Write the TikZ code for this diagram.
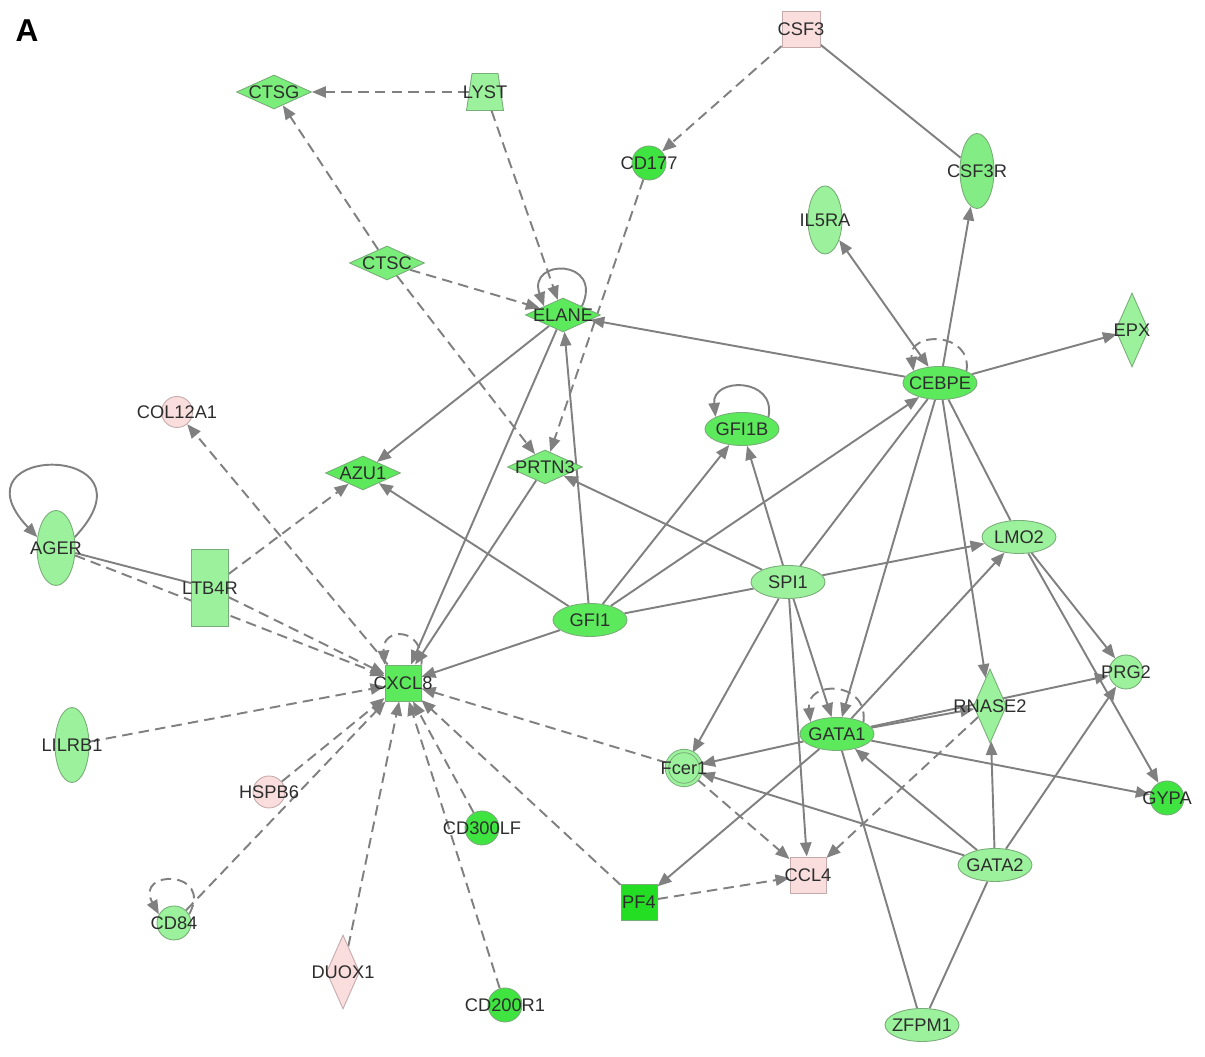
\documentclass[tikz,border=0pt]{standalone}
\usepackage{fontspec}
\setmainfont{Liberation Sans}
\usepackage{xcolor}
\usetikzlibrary{positioning,arrows.meta,shapes.geometric,backgrounds}

\definecolor{edgegray}{RGB}{128,128,128}
\definecolor{genetext}{RGB}{45,45,45}
\definecolor{geneline}{RGB}{120,172,120}
\definecolor{pinkline}{RGB}{196,170,170}
\definecolor{gdeep}{RGB}{36,222,36}
\definecolor{gbright}{RGB}{64,228,64}
\definecolor{gmid}{RGB}{92,234,92}
\definecolor{gdia}{RGB}{122,237,122}
\definecolor{gsoft}{RGB}{132,236,132}
\definecolor{glight}{RGB}{156,241,156}
\definecolor{pinkfill}{RGB}{250,222,222}

\tikzset{
  gene/.style={draw=geneline, line width=0.5pt, inner sep=0pt},
  every label/.style={inner sep=0pt, text=genetext, font=\fontsize{10.4}{12}\selectfont},
  flat/.style={gene, ellipse, minimum width=1.48cm, minimum height=0.66cm},
  tall/.style={gene, ellipse, minimum width=0.68cm, minimum height=1.5cm},
  dot/.style={gene, circle, minimum size=0.68cm},
  box/.style={gene, rectangle, minimum size=0.72cm},
  enz/.style={gene, diamond, minimum width=1.5cm, minimum height=0.68cm},
  tallenz/.style={gene, diamond, minimum width=0.66cm, minimum height=1.48cm},
  trap/.style={gene, trapezium, inner sep=2pt, trapezium left angle=78, trapezium right angle=78,
    trapezium stretches=true, minimum width=0.74cm, minimum height=0.74cm},
  up/.style={fill=pinkfill, draw=pinkline},
  rel/.style={draw=edgegray, line width=1.1pt},
  act/.style={rel, -{Triangle[length=8pt,width=6.4pt]}},
  ind/.style={act, dash pattern=on 6pt off 3.5pt},
  both/.style={rel, {Triangle[length=8pt,width=6.4pt]}-{Triangle[length=8pt,width=6.4pt]}},
}

\begin{document}
\begin{tikzpicture}[x=0.02cm,y=0.02cm]
  \useasboundingbox (0,0) rectangle (1205,1057);
  \node[font=\bfseries\fontsize{18}{20}\selectfont] (panel) at (27,1026) {A}; %panel letter

  % top part
  \node[box, up, minimum width=0.76cm] (csf3) at (801,1028) [label=center:CSF3] {};
  \node[trap, fill=glight] (lyst) at (485,965) [label=center:LYST] {};
  \node[enz, fill=gdia] (ctsg) at (274,965) [label=center:CTSG] {};
  \node[dot, fill=gbright] (cd177) at (649,894) [label=center:CD177] {};
  \node[tall, fill=gsoft] (csf3r) at (977,886) [label=center:CSF3R] {};
  \node[tall, fill=glight, minimum height=1.36cm] (il5ra) at (825,837) [label=center:IL5RA] {};
  \node[enz, fill=gdia] (ctsc) at (387,794) [label=center:CTSC] {};
  \node[enz, fill=gmid] (elane) at (563,742) [label=center:ELANE] {};
  \node[tallenz, fill=glight] (epx) at (1132,727) [label=center:EPX] {};
  \node[flat, fill=gmid] (cebpe) at (940,674) [label=center:CEBPE] {};

  % middle part
  \node[dot, up, minimum size=0.62cm] (col12a1) at (177,645) [label=center:COL12A1] {};
  \node[flat, fill=gmid] (gfi1b) at (742,628) [label=center:GFI1B] {};
  \node[enz, fill=gmid] (azu1) at (363,584) [label=center:AZU1] {};
  \node[enz, fill=gdia] (prtn3) at (545,590) [label=center:PRTN3] {};
  \node[tall, fill=glight, minimum width=0.76cm] (ager) at (56,509) [label=center:AGER] {};
  \node[box, fill=glight, minimum width=0.74cm, minimum height=1.54cm] (ltb4r) at (210,469) [label=center:LTB4R] {};
  \node[flat, fill=glight] (lmo2) at (1019,520) [label=center:LMO2] {};
  \node[flat, fill=glight] (spi1) at (788,475) [label=center:SPI1] {};
  \node[flat, fill=gmid] (gfi1) at (590,437) [label=center:GFI1] {};
  \node[box, fill=gmid] (cxcl8) at (403,374) [label=center:CXCL8] {};
  \node[dot, fill=glight] (prg2) at (1126,385) [label=center:PRG2] {};
  \node[tallenz, fill=glight] (rnase2) at (990,351) [label=center:RNASE2] {};
  \node[tall, fill=glight] (lilrb1) at (72,312) [label=center:LILRB1] {};
  \node[flat, fill=gmid] (gata1) at (837,323) [label=center:GATA1] {};
  \node[dot, fill=glight, double=glight, double distance=1.4pt] (fcer1) at (684,289) [label=center:Fcer1] {};
  \node[dot, fill=gbright] (gypa) at (1167,259) [label=center:GYPA] {};

  % bottom part
  \node[dot, up, minimum size=0.64cm] (hspb6) at (269,265) [label=center:HSPB6] {};
  \node[dot, fill=gbright] (cd300lf) at (482,229) [label=center:CD300LF] {};
  \node[flat, fill=glight] (gata2) at (995,192) [label=center:GATA2] {};
  \node[box, up] (ccl4) at (808,182) [label=center:CCL4] {};
  \node[box, fill=gdeep] (pf4) at (639,155) [label=center:PF4] {};
  \node[dot, fill=glight] (cd84) at (174,134) [label=center:CD84] {};
  \node[tallenz, up] (duox1) at (343,85) [label=center:DUOX1] {};
  \node[dot, fill=gbright] (cd200r1) at (505,52) [label=center:CD200R1] {};
  \node[flat, fill=glight] (zfpm1) at (922,32) [label=center:ZFPM1] {};

  \begin{scope}[on background layer]
    % dashed (indirect) links
    \draw[ind] (lyst) -- (ctsg);
    \draw[ind] (lyst) -- (elane);
    \draw[ind] (ctsc) -- (ctsg);
    \draw[ind] (ctsc) -- (elane);
    \draw[ind] (ctsc) -- (prtn3);
    \draw[ind] (csf3) -- (cd177);
    \draw[ind] (cd177) -- (prtn3);
    \draw[ind] (ltb4r) -- (azu1);
    \draw[ind] (cxcl8) -- (col12a1);
    \draw[ind] (ager) -- (cxcl8);
    \draw[ind] (ltb4r) -- (cxcl8);
    \draw[ind] (lilrb1) -- (cxcl8);
    \draw[ind] (hspb6) -- (cxcl8);
    \draw[ind] (cd84) -- (cxcl8);
    \draw[ind] (duox1) -- (cxcl8);
    \draw[ind] (cd300lf) -- (cxcl8);
    \draw[ind] (cd200r1) -- (cxcl8);
    \draw[ind] (pf4) -- (cxcl8);
    \draw[ind] (fcer1) -- (cxcl8);
    \draw[ind] (fcer1) -- (ccl4);
    \draw[ind] (rnase2) -- (ccl4);
    \draw[ind] (pf4) -- (ccl4);

    % solid (direct) links
    \draw[rel] (csf3) -- (csf3r);
    \draw[act] (cebpe) -- (elane);
    \draw[act] (elane) -- (azu1);
    \draw[act] (elane) -- (cxcl8);
    \draw[act] (gfi1) -- (elane);
    \draw[act] (prtn3) -- (cxcl8);
    \draw[act] (gfi1) -- (azu1);
    \draw[act] (spi1) -- (prtn3);
    \draw[act] (gfi1) -- (gfi1b);
    \draw[act] (gfi1) -- (cebpe);
    \draw[act] (gfi1) -- (cxcl8);
    \draw[rel] (gfi1) -- (spi1);
    \draw[act] (spi1) -- (gfi1b);
    \draw[act] (cebpe) -- (csf3r);
    \draw[act] (cebpe) -- (epx);
    \draw[both] (il5ra) -- (cebpe);
    \draw[rel] (cebpe) -- (spi1);
    \draw[act] (cebpe) -- (gata1);
    \draw[act] (cebpe) -- (rnase2);
    \draw[rel] (cebpe) -- (lmo2);
    \draw[act] (spi1) -- (lmo2);
    \draw[act] (spi1) -- (fcer1);
    \draw[act] (spi1) -- (ccl4);
    \draw[act] (spi1) -- (gata1);
    \draw[act] (gata1) -- (lmo2);
    \draw[act] (gata1) -- (rnase2);
    \draw[act] (gata1) -- (prg2);
    \draw[act] (gata1) -- (gypa);
    \draw[act] (gata1) -- (fcer1);
    \draw[act] (gata1) -- (pf4);
    \draw[rel] (gata1) -- (zfpm1);
    \draw[act] (gata2) -- (gata1);
    \draw[act] (gata2) -- (fcer1);
    \draw[act] (gata2) -- (rnase2);
    \draw[act] (gata2) -- (prg2);
    \draw[rel] (gata2) -- (zfpm1);
    \draw[act] (lmo2) -- (prg2);
    \draw[act] (lmo2) -- (gypa);
    \draw[rel] (ager) -- (ltb4r);

    % self loops
    \draw[act] (elane.north east) .. controls +(22,48) and +(-17,48) .. (elane.north west);
    \draw[act] (gfi1b.north east) .. controls +(8,40) and +(-4,40) .. (gfi1b.north west);
    \draw[act] (ager.30) .. controls +(90,95) and +(-90,95) .. (ager.150);
    \draw[ind] (cebpe.north east) .. controls +(6,40) and +(-6,40) .. (cebpe.north west);
    \draw[ind] (gata1.north east) .. controls +(5,42) and +(-5,42) .. (gata1.north west);
    \draw[ind] (cxcl8.north east) .. controls +(3,38) and +(-3,38) .. (cxcl8.north west);
    \draw[ind] (cd84.30) .. controls +(25,45) and +(-25,45) .. (cd84.150);
  \end{scope}
\end{tikzpicture}
\end{document}
